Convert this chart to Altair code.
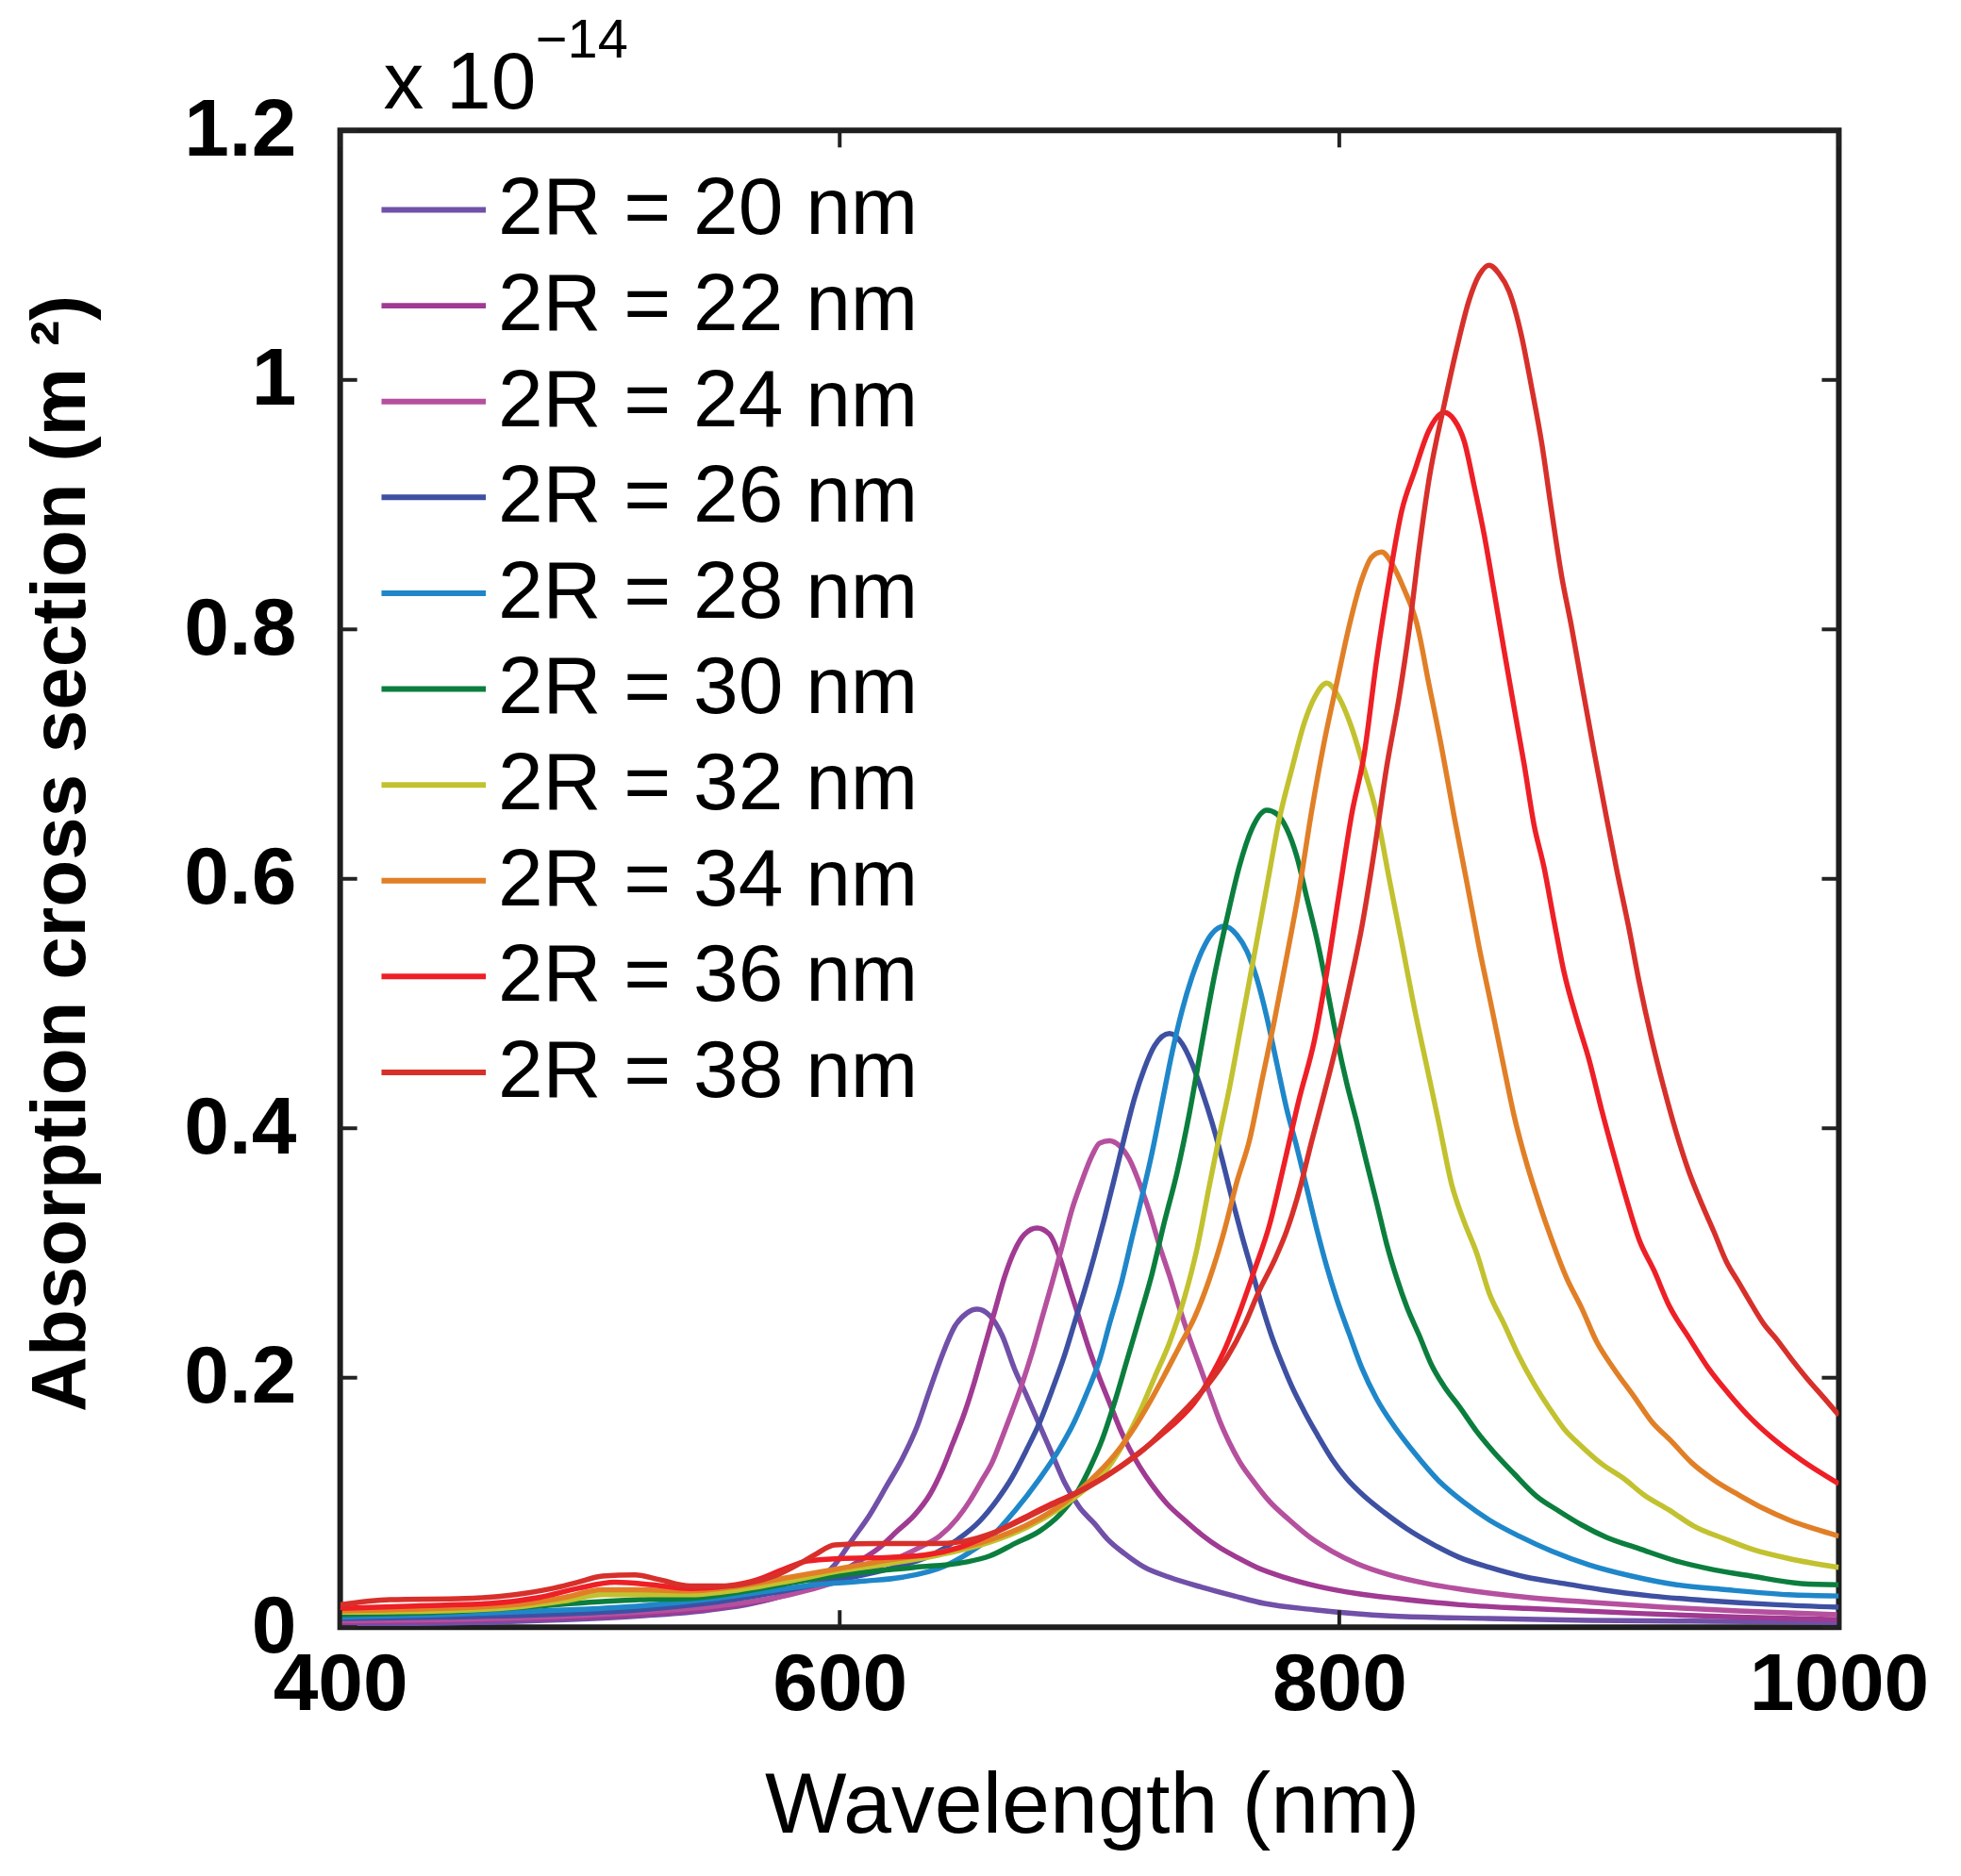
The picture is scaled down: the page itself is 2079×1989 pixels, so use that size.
import altair as alt
import pandas as pd

# ---------------- data ----------------
sizes = [20, 22, 24, 26, 28, 30, 32, 34, 36, 38]
labels = ["2R = %d nm" % s for s in sizes]
colors = ["#7050A8", "#A03A92", "#B5509E", "#3E50A2", "#1F87C9",
          "#0B7E3E", "#C2C12F", "#E17F27", "#EE1F26", "#D7302B"]

wl20 = [400, 430, 460, 490, 520, 545, 565, 580, 590, 598, 605, 612, 619, 625, 631, 636, 641, 646, 651, 655,
        660, 665, 670, 675, 680, 685, 690, 696, 702, 707, 714, 722, 732, 745, 758, 770, 790, 820, 860, 900, 950, 1000]
ab20 = [0.003, 0.003, 0.004, 0.006, 0.009, 0.013, 0.019, 0.027, 0.036, 0.050, 0.070, 0.090, 0.114, 0.135, 0.161,
        0.190, 0.218, 0.241, 0.252, 0.255, 0.250, 0.234, 0.207, 0.185, 0.162, 0.139, 0.116, 0.096, 0.083, 0.071,
        0.059, 0.048, 0.040, 0.032, 0.025, 0.019, 0.014, 0.009, 0.007, 0.0055, 0.0047, 0.004]

wl22 = [400, 440, 480, 520, 550, 575, 595, 607, 616, 623, 630, 636, 641, 645, 650, 654, 658, 662, 666, 670, 674,
        679, 684, 688, 692, 696, 700, 704, 708, 712, 716, 720, 725, 731, 738, 745, 752, 760, 768, 778, 791, 807,
        823, 848, 875, 920, 960, 1000]
ab22 = [0.004, 0.005, 0.007, 0.010, 0.015, 0.024, 0.038, 0.052, 0.064, 0.077, 0.090, 0.106, 0.126, 0.146, 0.172,
        0.197, 0.225, 0.253, 0.281, 0.302, 0.315, 0.320, 0.315, 0.297, 0.272, 0.247, 0.222, 0.200, 0.180, 0.160,
        0.143, 0.129, 0.114, 0.099, 0.086, 0.074, 0.064, 0.055, 0.047, 0.040, 0.033, 0.027, 0.023, 0.018, 0.015,
        0.011, 0.008, 0.006]

wl24 = [400, 440, 480, 520, 555, 580, 600, 615, 625, 632, 640, 647, 652, 657, 661, 665, 669, 673, 677, 681, 685,
        689, 693, 697, 701, 704, 708, 712, 716, 720, 724, 728, 732, 736, 740, 744, 748, 752, 756, 760, 766, 772,
        780, 789, 797, 807, 820, 835, 850, 875, 900, 930, 960, 1000]
ab24 = [0.005, 0.006, 0.008, 0.012, 0.018, 0.026, 0.037, 0.048, 0.057, 0.064, 0.073, 0.087, 0.101, 0.118, 0.132,
        0.152, 0.173, 0.195, 0.220, 0.248, 0.276, 0.305, 0.335, 0.358, 0.378, 0.388, 0.390, 0.386, 0.375, 0.356,
        0.333, 0.306, 0.282, 0.256, 0.232, 0.210, 0.188, 0.166, 0.148, 0.133, 0.116, 0.101, 0.086, 0.071, 0.061,
        0.051, 0.042, 0.035, 0.030, 0.024, 0.020, 0.016, 0.013, 0.010]

wl26 = [400, 440, 480, 520, 550, 575, 600, 620, 637, 647, 656, 663, 669, 675, 680, 685, 690, 694, 698, 702, 706,
        710, 714, 718, 722, 726, 732, 737, 741, 745, 749, 753, 757, 761, 765, 769, 773, 777, 781, 786, 791, 797,
        803, 810, 818, 827, 837, 848, 860, 875, 890, 905, 925, 950, 975, 1000]
ab26 = [0.007, 0.008, 0.010, 0.014, 0.020, 0.028, 0.038, 0.047, 0.058, 0.070, 0.085, 0.102, 0.120, 0.143, 0.164,
        0.190, 0.218, 0.244, 0.270, 0.298, 0.328, 0.360, 0.393, 0.424, 0.448, 0.466, 0.476, 0.468, 0.452, 0.430,
        0.405, 0.376, 0.344, 0.314, 0.286, 0.258, 0.233, 0.212, 0.193, 0.173, 0.155, 0.135, 0.119, 0.105, 0.092,
        0.079, 0.067, 0.056, 0.048, 0.040, 0.035, 0.030, 0.025, 0.021, 0.018, 0.016]

wl28 = [400, 440, 480, 520, 550, 575, 590, 610, 625, 642, 652, 661, 670, 680, 688, 694, 699, 704, 708, 713, 717,
        721, 725, 729, 733, 737, 741, 745, 749, 754, 759, 763, 767, 771, 775, 779, 783, 787, 791, 795, 799, 804,
        809, 815, 822, 830, 840, 850, 860, 872, 885, 900, 917, 935, 955, 980, 1000]
ab28 = [0.008, 0.010, 0.013, 0.017, 0.023, 0.030, 0.034, 0.037, 0.040, 0.049, 0.060, 0.073, 0.093, 0.119, 0.143,
        0.165, 0.188, 0.214, 0.243, 0.278, 0.312, 0.345, 0.380, 0.420, 0.460, 0.494, 0.521, 0.542, 0.556, 0.562,
        0.555, 0.542, 0.520, 0.489, 0.452, 0.415, 0.385, 0.352, 0.319, 0.289, 0.263, 0.235, 0.208, 0.183, 0.161,
        0.140, 0.117, 0.100, 0.086, 0.073, 0.061, 0.050, 0.041, 0.034, 0.030, 0.026, 0.025]

wl30 = [400, 440, 480, 500, 520, 540, 560, 582, 605, 630, 650, 660, 670, 680, 688, 695, 700, 705, 710, 715, 720,
        725, 730, 735, 740, 745, 750, 755, 760, 765, 771, 775, 779, 783, 787, 791, 795, 799, 803, 807, 811, 815,
        819, 823, 827, 832, 837, 842, 848, 855, 862, 870, 879, 888, 897, 907, 920, 935, 950, 965, 985, 1000]
ab30 = [0.010, 0.012, 0.017, 0.020, 0.022, 0.023, 0.028, 0.036, 0.043, 0.048, 0.052, 0.057, 0.067, 0.077, 0.090,
        0.108, 0.127, 0.150, 0.180, 0.214, 0.248, 0.283, 0.325, 0.364, 0.412, 0.468, 0.522, 0.568, 0.610, 0.640,
        0.655, 0.652, 0.640, 0.618, 0.585, 0.552, 0.513, 0.472, 0.436, 0.405, 0.372, 0.340, 0.307, 0.280, 0.257,
        0.234, 0.210, 0.193, 0.177, 0.157, 0.140, 0.123, 0.105, 0.093, 0.082, 0.072, 0.063, 0.053, 0.046, 0.041,
        0.035, 0.034]

wl32 = [400, 440, 470, 490, 505, 520, 540, 560, 580, 600, 620, 640, 660, 675, 688, 698, 706, 713, 720, 726, 732,
        738, 743, 748, 752, 756, 760, 764, 768, 772, 776, 781, 786, 790, 795, 800, 805, 810, 815, 820, 825, 830,
        835, 840, 845, 850, 855, 860, 866, 872, 878, 884, 890, 897, 905, 914, 922, 932, 942, 954, 966, 980, 1000]
ab32 = [0.012, 0.013, 0.016, 0.021, 0.026, 0.026, 0.026, 0.030, 0.037, 0.045, 0.051, 0.058, 0.068, 0.080, 0.095,
        0.110, 0.124, 0.145, 0.172, 0.200, 0.228, 0.264, 0.303, 0.354, 0.394, 0.432, 0.475, 0.518, 0.561, 0.605,
        0.648, 0.688, 0.725, 0.745, 0.757, 0.745, 0.721, 0.688, 0.652, 0.600, 0.549, 0.497, 0.450, 0.403, 0.355,
        0.325, 0.300, 0.268, 0.243, 0.217, 0.195, 0.176, 0.159, 0.145, 0.131, 0.119, 0.106, 0.094, 0.081, 0.071,
        0.062, 0.055, 0.048]

wl34 = [400, 440, 470, 490, 505, 520, 540, 560, 580, 600, 620, 640, 660, 675, 690, 700, 710, 718, 724, 730, 736,
        742, 748, 754, 759, 764, 769, 774, 779, 784, 789, 794, 799, 804, 809, 813, 817, 821, 826, 831, 836, 841,
        846, 851, 856, 861, 866, 870, 875, 880, 885, 891, 897, 903, 910, 918, 925, 933, 941, 950, 960, 970, 980,
        990, 1000]
ab34 = [0.013, 0.015, 0.018, 0.024, 0.030, 0.030, 0.029, 0.033, 0.040, 0.047, 0.054, 0.060, 0.070, 0.082, 0.100,
        0.117, 0.138, 0.160, 0.180, 0.202, 0.225, 0.248, 0.279, 0.318, 0.357, 0.390, 0.438, 0.486, 0.538, 0.592,
        0.655, 0.710, 0.757, 0.803, 0.840, 0.858, 0.862, 0.853, 0.832, 0.805, 0.755, 0.705, 0.650, 0.598, 0.545,
        0.497, 0.448, 0.410, 0.372, 0.340, 0.311, 0.280, 0.256, 0.229, 0.207, 0.185, 0.165, 0.149, 0.132, 0.118,
        0.106, 0.095, 0.086, 0.079, 0.073]

wl36 = [400, 430, 460, 480, 495, 510, 525, 540, 555, 567, 577, 587, 600, 620, 635, 648, 660, 672, 684, 696, 708,
        718, 728, 736, 742, 748, 754, 760, 766, 772, 778, 784, 790, 795, 800, 805, 810, 815, 820, 825, 830, 836,
        842, 846, 850, 854, 858, 862, 866, 870, 874, 878, 882, 886, 890, 895, 900, 905, 910, 915, 920, 926, 932,
        940, 948, 956, 965, 975, 985, 1000]
ab36 = [0.015, 0.017, 0.019, 0.024, 0.031, 0.036, 0.034, 0.031, 0.033, 0.038, 0.046, 0.053, 0.055, 0.056, 0.058,
        0.064, 0.074, 0.086, 0.098, 0.109, 0.123, 0.137, 0.153, 0.167, 0.180, 0.199, 0.222, 0.252, 0.286, 0.322,
        0.372, 0.424, 0.470, 0.525, 0.589, 0.652, 0.700, 0.776, 0.840, 0.895, 0.926, 0.960, 0.974, 0.968, 0.951,
        0.915, 0.876, 0.830, 0.783, 0.737, 0.692, 0.643, 0.609, 0.566, 0.525, 0.488, 0.455, 0.415, 0.378, 0.343,
        0.311, 0.286, 0.258, 0.232, 0.207, 0.187, 0.167, 0.149, 0.134, 0.115]

wl38 = [400, 420, 450, 470, 485, 495, 505, 518, 528, 540, 555, 565, 575, 583, 590, 598, 615, 638, 650, 662, 675,
        688, 700, 712, 722, 732, 740, 748, 755, 762, 768, 774, 779, 784, 789, 794, 799, 804, 809, 814, 819, 824,
        828, 832, 836, 842, 847, 852, 856, 860, 864, 868, 873, 877, 881, 885, 889, 893, 897, 902, 907, 911, 916,
        920, 925, 930, 935, 940, 945, 950, 955, 960, 965, 970, 975, 981, 987, 994, 1000]
ab38 = [0.018, 0.022, 0.023, 0.026, 0.031, 0.036, 0.041, 0.042, 0.038, 0.033, 0.033, 0.036, 0.042, 0.050, 0.058,
        0.066, 0.067, 0.067, 0.069, 0.076, 0.088, 0.101, 0.113, 0.128, 0.143, 0.162, 0.178, 0.196, 0.216, 0.242,
        0.270, 0.294, 0.318, 0.350, 0.390, 0.428, 0.468, 0.513, 0.561, 0.622, 0.690, 0.746, 0.800, 0.865, 0.921,
        0.980, 1.025, 1.064, 1.084, 1.092, 1.085, 1.071, 1.035, 0.994, 0.950, 0.895, 0.843, 0.802, 0.757, 0.702,
        0.649, 0.608, 0.560, 0.518, 0.472, 0.432, 0.396, 0.365, 0.340, 0.317, 0.293, 0.276, 0.259, 0.243, 0.231,
        0.215, 0.200, 0.184, 0.170]

x_ticks = [400, 600, 800, 1000]
y_ticks = [0, 0.2, 0.4, 0.6, 0.8, 1.0, 1.2]
scale_base = ["x 10"]
scale_power = ["\u221214"]

x_title = "Wavelength (nm)"
y_title = "Absorption cross section (m \u00b2)"

# ---------------- build tables ----------------
series = [(wl20, ab20), (wl22, ab22), (wl24, ab24), (wl26, ab26), (wl28, ab28),
          (wl30, ab30), (wl32, ab32), (wl34, ab34), (wl36, ab36), (wl38, ab38)]
rows = []
for lab, (wl, ab) in zip(labels, series):
    for i, (w, a) in enumerate(zip(wl, ab)):
        rows.append({"wl": w, "ab": a, "label": lab, "i": i})
df = pd.DataFrame(rows)

FONT = "Liberation Sans"
TX = 6.8      # inner tick length, nm
TY = 0.0136   # inner tick length, y units

xscale = alt.Scale(domain=[400, 1000], nice=False, zero=False)
yscale = alt.Scale(domain=[0, 1.2], nice=False)

xaxis = alt.Axis(values=x_ticks, format="d", title=x_title, grid=False, domain=False, ticks=False,
                 labelFontSize=86, labelFont=FONT, labelLimit=0,
                 labelFontWeight="bold", labelColor="black", labelPadding=20, labelFlush=False,
                 labelOverlap=False, titleFontSize=92, titleFont=FONT, titleFontWeight="normal",
                 titleColor="black", titleX=800, titleY=218, titleBaseline="alphabetic")
yaxis = alt.Axis(values=y_ticks, format=".1~f", title=y_title, grid=False, domain=False, ticks=False,
                 labelFontSize=86, labelFont=FONT, labelLimit=0,
                 labelFontWeight="bold", labelColor="black", labelPadding=47, labelFlush=False,
                 labelOverlap=False, titleFontSize=82, titleFont=FONT, titleFontWeight="bold",
                 titleColor="black", titleX=-272, titleY=769, titleBaseline="alphabetic",
                 titleAlign="center")

lines = alt.Chart(df).mark_line(strokeWidth=5.5, interpolate="monotone", clip=True).encode(
    x=alt.X("wl:Q", scale=xscale, axis=xaxis),
    y=alt.Y("ab:Q", scale=yscale, axis=yaxis),
    color=alt.Color("label:N", sort=labels,
                    scale=alt.Scale(domain=labels, range=colors),
                    legend=alt.Legend(orient="none", legendX=41, legendY=26, title=None,
                                      symbolType="stroke", symbolSize=12321, symbolStrokeWidth=6,
                                      labelFontSize=86, labelFont=FONT, labelColor="black",
                                      labelOffset=10, labelLimit=0, rowPadding=0, padding=0,
                                      symbolOffset=0)),
    order="i:Q",
)

tb = pd.DataFrame({"wl": x_ticks, "ab": [0] * 4, "ab2": [TY] * 4})
tt = pd.DataFrame({"wl": x_ticks, "ab": [1.2] * 4, "ab2": [1.2 - TY] * 4})
tl = pd.DataFrame({"ab": y_ticks, "wl": [400] * 7, "wl2": [400 + TX] * 7})
tr = pd.DataFrame({"ab": y_ticks, "wl": [1000] * 7, "wl2": [1000 - TX] * 7})

tick_style = dict(color="#222222", strokeWidth=4)
tick_b = alt.Chart(tb).mark_rule(**tick_style).encode(
    x=alt.X("wl:Q", scale=xscale, axis=xaxis), y=alt.Y("ab:Q", scale=yscale, axis=yaxis), y2="ab2:Q")
tick_t = alt.Chart(tt).mark_rule(**tick_style).encode(
    x=alt.X("wl:Q", scale=xscale, axis=xaxis), y=alt.Y("ab:Q", scale=yscale, axis=yaxis), y2="ab2:Q")
tick_l = alt.Chart(tl).mark_rule(**tick_style).encode(
    x=alt.X("wl:Q", scale=xscale, axis=xaxis), x2="wl2:Q", y=alt.Y("ab:Q", scale=yscale, axis=yaxis))
tick_r = alt.Chart(tr).mark_rule(**tick_style).encode(
    x=alt.X("wl:Q", scale=xscale, axis=xaxis), x2="wl2:Q", y=alt.Y("ab:Q", scale=yscale, axis=yaxis))

base_txt = alt.Chart(pd.DataFrame({"t": scale_base})).mark_text(
    align="left", baseline="alphabetic", fontSize=86, font=FONT, color="black").encode(
    x=alt.value(46), y=alt.value(-23), text="t:N")
pow_txt = alt.Chart(pd.DataFrame({"t": scale_power})).mark_text(
    align="left", baseline="alphabetic", fontSize=58, font=FONT, color="black").encode(
    x=alt.value(208), y=alt.value(-78), text="t:N")

chart = alt.layer(lines, tick_b, tick_t, tick_l, tick_r, base_txt, pow_txt).properties(
    width=1595, height=1593,
    background="white",
    autosize=alt.AutoSizeParams(type="none"),
    padding={"left": 354, "top": 127, "right": 122, "bottom": 261},
).configure_view(stroke="#1e1e1e", strokeWidth=6).configure_axis(
    grid=False, domain=False, ticks=False
)

chart.save("out.html", embed_options={"renderer": "svg", "actions": False})
